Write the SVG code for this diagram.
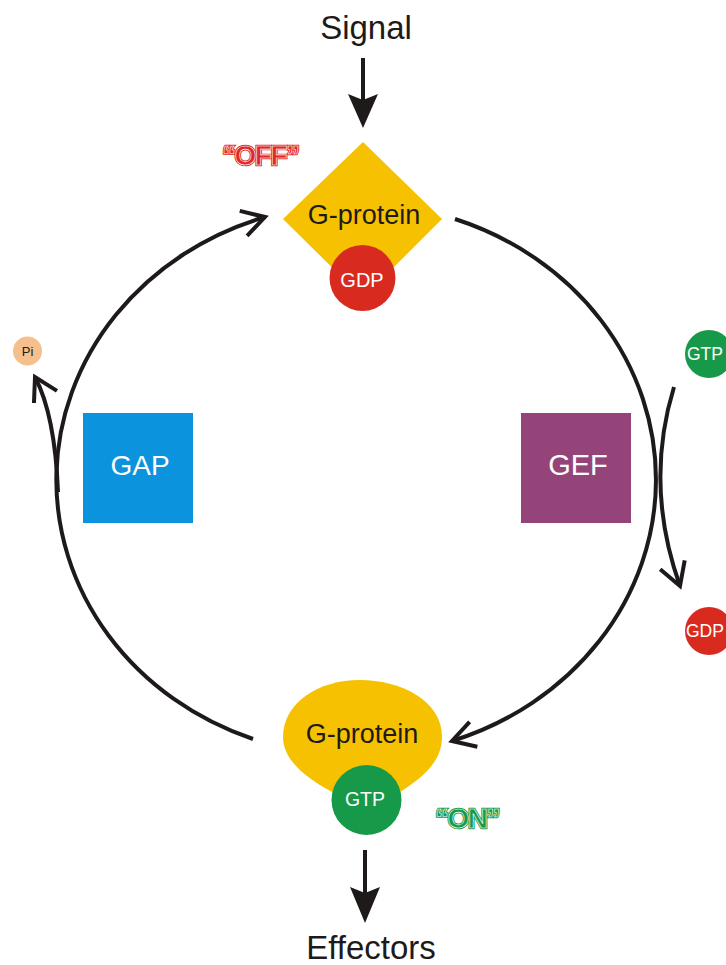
<svg xmlns="http://www.w3.org/2000/svg" width="726" height="965" viewBox="0 0 726 965">
<style>
text{font-family:"Liberation Sans",Arial,Helvetica,sans-serif;}
.conn{fill:none;stroke:#1e1a1a;stroke-width:4;}
.head{fill:#1e1a1a;}
.lbl{fill:#1e1a1a;}
.wt{fill:#ffffff;text-anchor:middle;}
.state{font-weight:bold;font-size:28px;letter-spacing:-1.5px;}
.inline{fill:none;stroke:#ffffff;stroke-width:0.6;}
</style>
<defs>
<marker id="chev" markerUnits="userSpaceOnUse" markerWidth="40" markerHeight="40" viewBox="-30 -20 40 40" refX="0" refY="0" orient="auto" overflow="visible">
<path d="M-22.5,-13 L0,0 L-22.5,13" fill="none" stroke="#1e1a1a" stroke-width="4" stroke-linejoin="miter"/>
</marker>
</defs>
<rect width="726" height="965" fill="#ffffff"/>
<g id="connectors">
<path class="conn" d="M455,219 A300,276 0 0 1 452,741" marker-end="url(#chev)"/>
<path class="conn" d="M253,739 A300,276 0 0 1 265,217" marker-end="url(#chev)"/>
<path class="conn" d="M674,387 Q644,485 680,586" marker-end="url(#chev)"/>
<path class="conn" d="M58,492 Q55,415 35,377" marker-end="url(#chev)"/>
<line class="conn" x1="363" y1="58" x2="363" y2="100"/>
<polygon class="head" points="348,94 363,128 378,94 363,100"/>
<line class="conn" x1="365" y1="850" x2="365" y2="893"/>
<polygon class="head" points="350,887 365,923 380,887 365,893"/>
</g>
<g id="signal"><text class="lbl" x="366" y="39" font-size="33" text-anchor="middle">Signal</text></g>
<g id="g-protein-off">
<polygon points="363,142 442,219 363,298 283,219" fill="#f5c100"/>
<text class="lbl" x="364" y="224" font-size="27" text-anchor="middle">G-protein</text>
</g>
<g id="gdp-bound">
<circle cx="362.5" cy="278" r="33" fill="#d92a20"/>
<text class="wt" x="362" y="287" font-size="20">GDP</text>
</g>
<g id="off-label">
<text class="state" x="222" y="165" fill="#e0282a" stroke="#e0282a" stroke-width="2.5">“OFF”</text>
<text class="state inline" x="222" y="165">“OFF”</text>
</g>
<g id="gap">
<rect x="83" y="413" width="110" height="110" fill="#0c93dd"/>
<text class="wt" x="140" y="475" font-size="28">GAP</text>
</g>
<g id="gef">
<rect x="521" y="413" width="110" height="110" fill="#954479"/>
<text class="wt" x="578" y="475" font-size="29">GEF</text>
</g>
<g id="pi">
<circle cx="27.5" cy="351" r="14.5" fill="#f6c08e"/>
<text class="lbl" x="27.5" y="355.5" font-size="13" text-anchor="middle">Pi</text>
</g>
<g id="gtp-in">
<circle cx="709" cy="354" r="24" fill="#17994a"/>
<text x="687" y="360" font-size="17.5" fill="#ffffff">GTP</text>
</g>
<g id="gdp-out">
<circle cx="709" cy="631" r="24" fill="#d92a20"/>
<text x="686" y="637" font-size="17.5" fill="#ffffff">GDP</text>
</g>
<g id="g-protein-on">
<path d="M366,800 L332,792 C310,780 283,762 283,737 C283,703 318,680 360,680 C400,680 442,700 442,737 C442,762 422,778 400,792 Z" fill="#f5c100"/>
<text class="lbl" x="362" y="743" font-size="27" text-anchor="middle">G-protein</text>
</g>
<g id="gtp-bound">
<circle cx="366.5" cy="800" r="35" fill="#17994a"/>
<text class="wt" x="365" y="806" font-size="19.5">GTP</text>
</g>
<g id="on-label">
<text class="state" x="435" y="828" fill="#17994a" stroke="#17994a" stroke-width="2.5">“ON”</text>
<text class="state inline" x="435" y="828">“ON”</text>
</g>
<g id="effectors"><text class="lbl" x="371" y="959" font-size="33" text-anchor="middle">Effectors</text></g>
</svg>
